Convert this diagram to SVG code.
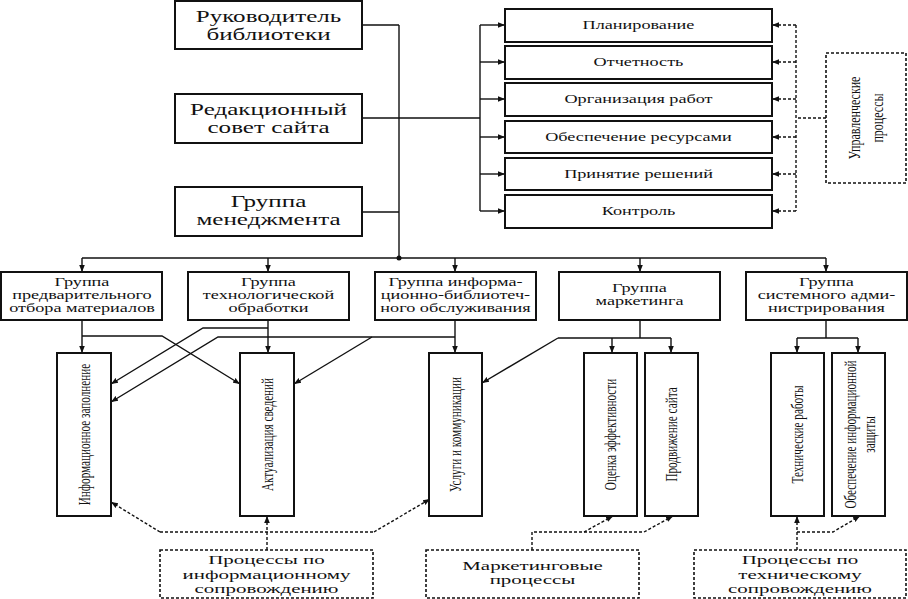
<svg xmlns="http://www.w3.org/2000/svg" width="908" height="599" viewBox="0 0 908 599">
<style>
text{font-family:"Liberation Serif","DejaVu Serif","Times New Roman",serif;fill:#111;text-anchor:middle}
.box{fill:#fff;stroke:#111;stroke-width:2}
.dbox{fill:#fff;stroke:#111;stroke-width:1.6;stroke-dasharray:3 2}
.ln{fill:none;stroke:#111;stroke-width:1.4}
.dl{fill:none;stroke:#111;stroke-width:1.4;stroke-dasharray:3 2}
.big{font-size:16.5px}
.mid{font-size:13px}
.proc{font-size:13.5px}
.rot{font-size:11.2px}
.rot2{font-size:12px}
</style>
<defs>
<marker id="ah" viewBox="0 0 10 10" refX="10" refY="5" markerWidth="7" markerHeight="7" markerUnits="userSpaceOnUse" orient="auto">
<path d="M0,1 L10,5 L0,9 z" fill="#111"/>
</marker>
</defs>

<g id="connectors">
<path class="ln" d="M362,25 H399 M362,118 H480 M362,212 H399 M399,25 V258"/>
<circle cx="399" cy="258" r="2.5" fill="#111"/>
<path class="ln" d="M480,25 V211"/>
<path class="ln" marker-end="url(#ah)" d="M480,25 H505"/>
<path class="ln" marker-end="url(#ah)" d="M480,62 H505"/>
<path class="ln" marker-end="url(#ah)" d="M480,99 H505"/>
<path class="ln" marker-end="url(#ah)" d="M480,137 H505"/>
<path class="ln" marker-end="url(#ah)" d="M480,174 H505"/>
<path class="ln" marker-end="url(#ah)" d="M480,211 H505"/>
<path class="dl" d="M826,118 H796 M796,25 V211"/>
<path class="dl" marker-end="url(#ah)" d="M796,25 H772"/>
<path class="dl" marker-end="url(#ah)" d="M796,62 H772"/>
<path class="dl" marker-end="url(#ah)" d="M796,99 H772"/>
<path class="dl" marker-end="url(#ah)" d="M796,137 H772"/>
<path class="dl" marker-end="url(#ah)" d="M796,174 H772"/>
<path class="dl" marker-end="url(#ah)" d="M796,211 H772"/>
<path class="ln" d="M82,258 H826"/>
<path class="ln" marker-end="url(#ah)" d="M82,258 V272"/>
<path class="ln" marker-end="url(#ah)" d="M268,258 V272"/>
<path class="ln" marker-end="url(#ah)" d="M455,258 V272"/>
<path class="ln" marker-end="url(#ah)" d="M640,258 V272"/>
<path class="ln" marker-end="url(#ah)" d="M826,258 V272"/>
<path class="ln" marker-end="url(#ah)" d="M82,320 V353"/>
<path class="ln" marker-end="url(#ah)" d="M82,336 H162 L240,384"/>
<path class="ln" marker-end="url(#ah)" d="M268,320 V353"/>
<path class="ln" marker-end="url(#ah)" d="M268,328 H203 L111,384"/>
<path class="ln" marker-end="url(#ah)" d="M455,320 V353"/>
<path class="ln" marker-end="url(#ah)" d="M455,337 H218 L111,402"/>
<path class="ln" marker-end="url(#ah)" d="M372,337 L294,384"/>
<path class="ln" d="M640,320 V338 M558,338 H671"/>
<path class="ln" marker-end="url(#ah)" d="M612,338 V353"/>
<path class="ln" marker-end="url(#ah)" d="M671,338 V353"/>
<path class="ln" marker-end="url(#ah)" d="M558,338 L482,383"/>
<path class="ln" d="M826,320 V338 M797,338 H858"/>
<path class="ln" marker-end="url(#ah)" d="M797,338 V353"/>
<path class="ln" marker-end="url(#ah)" d="M858,338 V353"/>
<path class="dl" marker-end="url(#ah)" d="M267,550 V516"/>
<path class="dl" d="M160,532 H374"/>
<path class="dl" marker-end="url(#ah)" d="M160,532 L111,502"/>
<path class="dl" marker-end="url(#ah)" d="M374,532 L430,499"/>
<path class="dl" marker-end="url(#ah)" d="M532,550 V532 H584 L613,516"/>
<path class="dl" marker-end="url(#ah)" d="M584,532 H644 L673,516"/>
<path class="dl" marker-end="url(#ah)" d="M797,550 V516"/>
<path class="dl" marker-end="url(#ah)" d="M797,532 H833 L860,516"/>
</g>

<g id="n-head">
<rect class="box" x="175" y="1" width="187" height="48"/>
<text class="big" transform="translate(268.5,22) scale(1.52,1)">Руководитель</text>
<text class="big" transform="translate(268.5,40) scale(1.52,1)">библиотеки</text>
</g>
<g id="n-council">
<rect class="box" x="175" y="94" width="187" height="49"/>
<text class="big" transform="translate(268.5,115) scale(1.52,1)">Редакционный</text>
<text class="big" transform="translate(268.5,133) scale(1.52,1)">совет сайта</text>
</g>
<g id="n-mgmt">
<rect class="box" x="175" y="187" width="187" height="49"/>
<text class="big" transform="translate(268.5,207) scale(1.52,1)">Группа</text>
<text class="big" transform="translate(268.5,225) scale(1.52,1)">менеджмента</text>
</g>

<g id="n-plan">
<rect class="box" x="505" y="9" width="267" height="33"/>
<text class="mid" transform="translate(638.5,29) scale(1.4,1)">Планирование</text>
</g>
<g id="n-report">
<rect class="box" x="505" y="46" width="267" height="33"/>
<text class="mid" transform="translate(638.5,66) scale(1.4,1)">Отчетность</text>
</g>
<g id="n-org">
<rect class="box" x="505" y="83" width="267" height="33"/>
<text class="mid" transform="translate(638.5,103) scale(1.4,1)">Организация работ</text>
</g>
<g id="n-res">
<rect class="box" x="505" y="121" width="267" height="32"/>
<text class="mid" transform="translate(638.5,141) scale(1.4,1)">Обеспечение ресурсами</text>
</g>
<g id="n-dec">
<rect class="box" x="505" y="158" width="267" height="32"/>
<text class="mid" transform="translate(638.5,178) scale(1.4,1)">Принятие решений</text>
</g>
<g id="n-ctrl">
<rect class="box" x="505" y="195" width="267" height="33"/>
<text class="mid" transform="translate(638.5,215) scale(1.4,1)">Контроль</text>
</g>
<g id="n-manproc">
<rect class="dbox" x="826" y="53" width="80" height="130"/>
<text class="rot2" transform="translate(854,118) scale(1.4,1) rotate(-90)" dy="0.35em">Управленческие</text>
<text class="rot2" transform="translate(877,118) scale(1.4,1) rotate(-90)" dy="0.35em">процессы</text>
</g>

<g id="n-g1">
<rect class="box" x="1" y="272" width="161" height="48"/>
<text class="mid" transform="translate(82,286) scale(1.4,1)">Группа</text>
<text class="mid" transform="translate(82,299) scale(1.4,1)">предварительного</text>
<text class="mid" transform="translate(82,312) scale(1.4,1)">отбора материалов</text>
</g>
<g id="n-g2">
<rect class="box" x="188" y="272" width="161" height="48"/>
<text class="mid" transform="translate(268.5,286) scale(1.4,1)">Группа</text>
<text class="mid" transform="translate(268.5,299) scale(1.4,1)">технологической</text>
<text class="mid" transform="translate(268.5,312) scale(1.4,1)">обработки</text>
</g>
<g id="n-g3">
<rect class="box" x="375" y="272" width="161" height="48"/>
<text class="mid" transform="translate(455.5,286) scale(1.4,1)">Группа информа-</text>
<text class="mid" transform="translate(455.5,299) scale(1.4,1)">ционно-библиотеч-</text>
<text class="mid" transform="translate(455.5,312) scale(1.4,1)">ного обслуживания</text>
</g>
<g id="n-g4">
<rect class="box" x="559" y="272" width="161" height="48"/>
<text class="mid" transform="translate(639.5,292) scale(1.4,1)">Группа</text>
<text class="mid" transform="translate(639.5,305) scale(1.4,1)">маркетинга</text>
</g>
<g id="n-g5">
<rect class="box" x="746" y="272" width="161" height="48"/>
<text class="mid" transform="translate(826.5,286) scale(1.4,1)">Группа</text>
<text class="mid" transform="translate(826.5,299) scale(1.4,1)">системного адми-</text>
<text class="mid" transform="translate(826.5,312) scale(1.4,1)">нистрирования</text>
</g>

<g id="n-fill">
<rect class="box" x="57" y="353" width="54" height="163"/>
<text class="rot" transform="translate(84,434.5) scale(1.4,1) rotate(-90)" dy="0.35em">Информационное заполнение</text>
</g>
<g id="n-update">
<rect class="box" x="240" y="353" width="54" height="163"/>
<text class="rot" transform="translate(267,434.5) scale(1.4,1) rotate(-90)" dy="0.35em">Актуализация сведений</text>
</g>
<g id="n-services">
<rect class="box" x="429" y="353" width="53" height="163"/>
<text class="rot" transform="translate(455.5,434.5) scale(1.4,1) rotate(-90)" dy="0.35em">Услуги и коммуникации</text>
</g>
<g id="n-eval">
<rect class="box" x="584" y="353" width="53" height="163"/>
<text class="rot" transform="translate(610.5,434.5) scale(1.4,1) rotate(-90)" dy="0.35em">Оценка эффективности</text>
</g>
<g id="n-promo">
<rect class="box" x="645" y="353" width="53" height="163"/>
<text class="rot" transform="translate(671.5,434.5) scale(1.4,1) rotate(-90)" dy="0.35em">Продвижение сайта</text>
</g>
<g id="n-tech">
<rect class="box" x="771" y="353" width="53" height="163"/>
<text class="rot" transform="translate(797.5,434.5) scale(1.4,1) rotate(-90)" dy="0.35em">Технические работы</text>
</g>
<g id="n-sec">
<rect class="box" x="832" y="353" width="53" height="163"/>
<text class="rot" transform="translate(850,434.5) scale(1.4,1) rotate(-90)" dy="0.35em">Обеспечение информационной</text>
<text class="rot" transform="translate(869,434.5) scale(1.4,1) rotate(-90)" dy="0.35em">защиты</text>
</g>

<g id="n-infoproc">
<rect class="dbox" x="160" y="550" width="213" height="48"/>
<text class="proc" transform="translate(266.5,564) scale(1.55,1)">Процессы по</text>
<text class="proc" transform="translate(266.5,578.5) scale(1.55,1)">информационному</text>
<text class="proc" transform="translate(266.5,593) scale(1.55,1)">сопровождению</text>
</g>
<g id="n-mktproc">
<rect class="dbox" x="426" y="550" width="213" height="48"/>
<text class="proc" transform="translate(532.5,570) scale(1.55,1)">Маркетинговые</text>
<text class="proc" transform="translate(532.5,584) scale(1.55,1)">процессы</text>
</g>
<g id="n-techproc">
<rect class="dbox" x="694" y="550" width="212" height="48"/>
<text class="proc" transform="translate(800,564) scale(1.55,1)">Процессы по</text>
<text class="proc" transform="translate(800,578.5) scale(1.55,1)">техническому</text>
<text class="proc" transform="translate(800,593) scale(1.55,1)">сопровождению</text>
</g>
</svg>
